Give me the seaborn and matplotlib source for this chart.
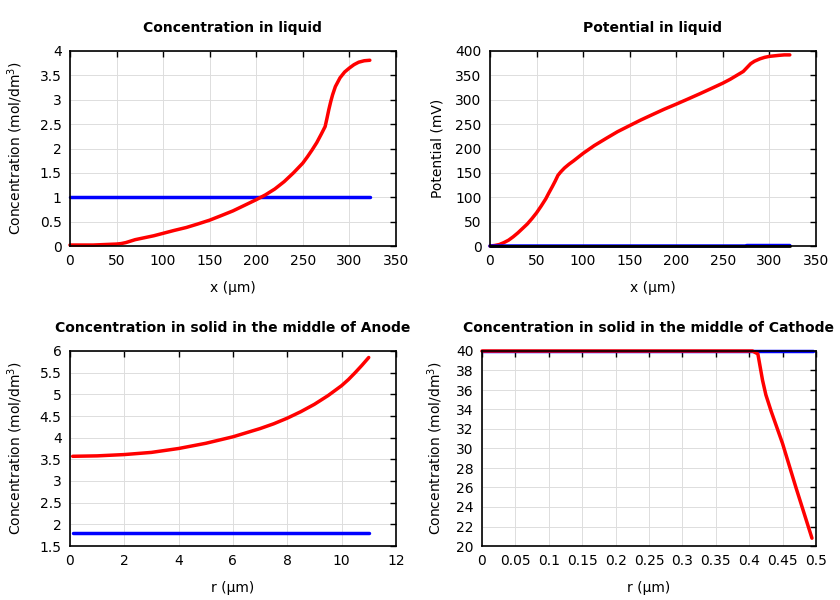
import matplotlib
matplotlib.use("Agg")
import matplotlib.pyplot as plt
import seaborn as sns
import pandas as pd

# concentration in liquid (mol/dm3) vs x (um)
liq_x = [0, 25, 50, 55, 60, 65, 70, 75, 80, 90, 100, 112, 125, 137, 150, 162, 175, 187, 200, 210, 220, 230,
         240, 245, 250, 255, 260, 265, 270, 274, 276, 278, 280, 282, 285, 290, 295, 300, 305, 310, 316, 322]
liq_c_end = [0.02, 0.02, 0.04, 0.05, 0.07, 0.1, 0.13, 0.15, 0.17, 0.21, 0.26, 0.32, 0.38, 0.45, 0.53, 0.62, 0.72, 0.83,
             0.95, 1.05, 1.17, 1.32, 1.5, 1.6, 1.7, 1.83, 1.97, 2.12, 2.3, 2.45, 2.62, 2.8, 2.96, 3.1, 3.27, 3.45,
             3.57, 3.65, 3.72, 3.77, 3.8, 3.81]
liq_c_start = [1.0] * len(liq_x)

# potential in liquid (mV)
pot_x = [0, 5, 10, 15, 20, 25, 30, 35, 40, 45, 50, 55, 60, 63, 67, 70, 73, 76, 80, 85, 90, 100, 112, 125, 137,
         150, 162, 175, 187, 200, 212, 225, 237, 250, 258, 265, 272, 276, 280, 284, 290, 295, 300, 310, 316, 322]
pot_end = [0, 1, 3, 7, 12, 19, 27, 36, 45, 56, 68, 82, 97, 108, 122, 133, 145, 152, 160, 168, 175, 190, 206,
           221, 234.5, 247, 258.5, 270, 280.5, 291, 301, 312, 322.5, 334, 342, 350, 358, 366, 374, 379, 384, 387,
           389, 391, 392, 392]
pot_start_x = [0, 274, 276, 322]
pot_start = [0, 0, 1, 1]
pot_zero_x = [0, 322]
pot_zero = [0, 0]

# solid concentration, middle of anode
an_r = [0.1, 1, 2, 3, 4, 5, 6, 7, 7.5, 8, 8.5, 9, 9.5, 10, 10.25, 10.5, 10.75, 11]
an_end = [3.57, 3.58, 3.61, 3.66, 3.75, 3.87, 4.02, 4.21, 4.32, 4.45, 4.6, 4.77, 4.97, 5.2, 5.34, 5.5, 5.67, 5.85]
an_start = [1.8] * len(an_r)

# solid concentration, middle of cathode
ca_r = [0, 0.1, 0.2, 0.3, 0.405, 0.413, 0.42, 0.425, 0.433, 0.45, 0.47, 0.494]
ca_end = [40, 40, 40, 40, 40, 39.7, 37, 35.5, 33.8, 30.5, 26, 20.8]
ca_start_r = [0, 0.495]
ca_start = [40, 40]

sns.set_style("whitegrid")
plt.rcParams['font.family'] = ['DejaVu Sans']
plt.rcParams['font.size'] = 10
for k in ("text.color", "axes.labelcolor", "xtick.color", "ytick.color"):
    plt.rcParams[k] = "black"

fig = plt.figure(figsize=(8.4, 6), dpi=100)
ax1 = fig.add_axes([0.0833, 0.59, 0.388, 0.325])
ax2 = fig.add_axes([0.5833, 0.59, 0.388, 0.325])
ax3 = fig.add_axes([0.0833, 0.09, 0.388, 0.325])
ax4 = fig.add_axes([0.5738, 0.09, 0.3976, 0.325])


def line(ax, x, y, color, lw=2.5):
    df = pd.DataFrame({"x": x, "y": y})
    sns.lineplot(data=df, x="x", y="y", ax=ax, color=color, linewidth=lw, sort=False, estimator=None)


def style(ax, title, xlabel, ylabel, xlim, ylim, xticks, yticks, labx):
    ax.set_title(title, fontweight="bold", fontsize=10, pad=14, color="black")
    ax.set_xlabel(xlabel, fontsize=10, labelpad=9)
    ax.set_ylabel(ylabel, fontsize=10)
    ax.yaxis.set_label_coords(labx, 0.5)
    ax.set_xlim(xlim)
    ax.set_ylim(ylim)
    ax.set_xticks(xticks)
    ax.set_yticks(yticks)
    ax.set_xticklabels([f"{t:g}" for t in xticks])
    ax.set_yticklabels([f"{t:g}" for t in yticks])
    ax.grid(True, color="#dddddd", linewidth=0.7)
    ax.tick_params(direction="in", top=True, right=True, length=4, width=1,
                   color="black", labelsize=10, pad=6)
    for s in ax.spines.values():
        s.set_color("black")
        s.set_linewidth(1.2)


line(ax1, liq_x, liq_c_start, "blue")
line(ax1, liq_x, liq_c_end, "red")
style(ax1, "Concentration in liquid", "x (µm)", "Concentration (mol/dm$^3$)",
      (0, 350), (0, 4), list(range(0, 351, 50)), [0, 0.5, 1, 1.5, 2, 2.5, 3, 3.5, 4], -0.138)

line(ax2, pot_x, pot_end, "red")
line(ax2, pot_start_x, pot_start, "blue")
line(ax2, pot_zero_x, pot_zero, "black", lw=2)
style(ax2, "Potential in liquid", "x (µm)", "Potential (mV)",
      (0, 350), (0, 400), list(range(0, 351, 50)), list(range(0, 401, 50)), -0.138)

line(ax3, an_r, an_start, "blue")
line(ax3, an_r, an_end, "red")
style(ax3, "Concentration in solid in the middle of Anode", "r (µm)", "Concentration (mol/dm$^3$)",
      (0, 12), (1.5, 6), list(range(0, 13, 2)), [1.5, 2, 2.5, 3, 3.5, 4, 4.5, 5, 5.5, 6], -0.138)

line(ax4, ca_start_r, ca_start, "blue")
line(ax4, ca_r, ca_end, "red")
style(ax4, "Concentration in solid in the middle of Cathode", "r (µm)", "Concentration (mol/dm$^3$)",
      (0, 0.5), (20, 40), [0, 0.05, 0.1, 0.15, 0.2, 0.25, 0.3, 0.35, 0.4, 0.45, 0.5], list(range(20, 41, 2)), -0.111)

for ax in (ax1, ax2, ax3, ax4):
    for l in ax.lines:
        l.set_clip_on(False)

fig.savefig("out.png", dpi=100)
